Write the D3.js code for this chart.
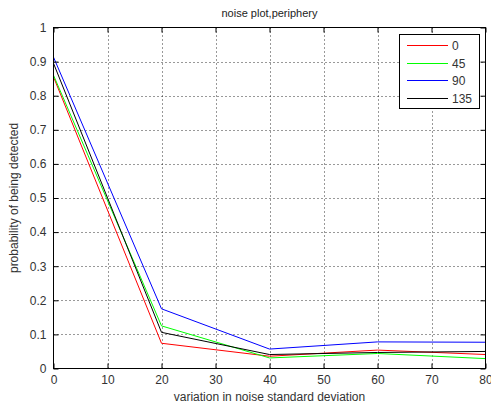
<!DOCTYPE html>
<html><head><meta charset="utf-8">
<script src="https://cdn.jsdelivr.net/npm/d3@7"></script>
<style>body{margin:0;background:#fff}svg{display:block}text{font-family:"Liberation Sans",Arial,sans-serif}</style>
</head><body><svg id="c" width="491" height="409"></svg>
<script>
const xValues = [0, 20, 40, 60, 80];
const s0   = [0.855, 0.074, 0.036, 0.054, 0.041];
const s45  = [0.860, 0.125, 0.031, 0.044, 0.029];
const s90  = [0.913, 0.175, 0.057, 0.078, 0.077];
const s135 = [0.895, 0.106, 0.041, 0.047, 0.050];
const seriesNames = ["0", "45", "90", "135"];
const seriesColors = ["#ff0000", "#00ff00", "#0000ff", "#000000"];
const xTicks = [0,10,20,30,40,50,60,70,80];
const yTicks = [0,0.1,0.2,0.3,0.4,0.5,0.6,0.7,0.8,0.9,1];

const svg = d3.select("#c");
const L=53.5, T=27.5, R=485.5, B=368.5;
const x = d3.scaleLinear().domain([0,80]).range([L,R]);
const y = d3.scaleLinear().domain([0,1]).range([B,T]);
const g = svg.append("g");

// grid
g.selectAll(".gx").data(xTicks.slice(1,-1)).enter().append("line")
  .attr("x1",d=>Math.round(x(d))+0.5).attr("x2",d=>Math.round(x(d))+0.5).attr("y1",T).attr("y2",B)
  .attr("stroke","#000").attr("stroke-width",1).attr("stroke-dasharray","1,3").attr("opacity",0.8);
g.selectAll(".gy").data(yTicks.slice(1,-1)).enter().append("line")
  .attr("y1",d=>Math.round(y(d))+0.5).attr("y2",d=>Math.round(y(d))+0.5).attr("x1",L).attr("x2",R)
  .attr("stroke","#000").attr("stroke-width",1).attr("stroke-dasharray","1,3").attr("opacity",0.8);

// series
const series=[s0,s45,s90,s135];
const line=d3.line().x((d,i)=>x(xValues[i])).y(d=>y(d));
series.forEach((s,k)=>{
  g.append("path").attr("d",line(s)).attr("fill","none").attr("stroke",seriesColors[k]).attr("stroke-width",1);
});

// box
g.append("rect").attr("x",L).attr("y",T).attr("width",R-L).attr("height",B-T)
  .attr("fill","none").attr("stroke","#000").attr("stroke-width",1);

// axes ticks (inward) and labels
const xa = d3.axisBottom(x).tickValues(xTicks).tickSize(-5).tickPadding(7).tickFormat(d3.format("d"));
const ya = d3.axisLeft(y).tickValues(yTicks).tickSize(-5).tickPadding(7).tickFormat(d=>d===0?"0":d===1?"1":d3.format(".1f")(d));
const xg=svg.append("g").attr("transform",`translate(0,${B})`).call(xa);
const yg=svg.append("g").attr("transform",`translate(${L},0)`).call(ya);
svg.append("g").attr("transform",`translate(0,${T})`).call(d3.axisTop(x).tickValues(xTicks).tickSize(-5).tickFormat(""));
svg.append("g").attr("transform",`translate(${R},0)`).call(d3.axisRight(y).tickValues(yTicks).tickSize(-5).tickFormat(""));
svg.selectAll(".domain").remove();
svg.selectAll(".tick line").attr("stroke","#000");
[xg,yg].forEach(a=>a.selectAll("text").attr("font-size",12).attr("fill","#333").style("font-family","'Liberation Sans',Arial,sans-serif"));

// titles
svg.append("text").attr("x",(L+R)/2).attr("y",17).attr("text-anchor","middle").attr("font-size",11).attr("fill","#222").text("noise plot,periphery");
svg.append("text").attr("x",(L+R)/2).attr("y",401).attr("text-anchor","middle").attr("font-size",12).attr("fill","#333").text("variation in noise standard deviation");
svg.append("text").attr("transform",`translate(18,${(T+B)/2}) rotate(-90)`).attr("text-anchor","middle").attr("font-size",12).attr("fill","#333").text("probability of being detected");

// legend
const lg=svg.append("g");
lg.append("rect").attr("x",399.5).attr("y",34.5).attr("width",80).attr("height",74).attr("fill","#fff").attr("stroke","#000");
seriesNames.forEach((n,k)=>{
  const yy=Math.round(45+k*17.7)+0.5;
  lg.append("path").attr("d",`M407,${yy}H448`).attr("fill","none")
    .attr("stroke",seriesColors[k]).attr("stroke-width",1).attr("shape-rendering","crispEdges");
  lg.append("text").attr("x",452).attr("y",yy+4).attr("font-size",12).attr("fill","#333").text(n);
});
</script></body></html>
